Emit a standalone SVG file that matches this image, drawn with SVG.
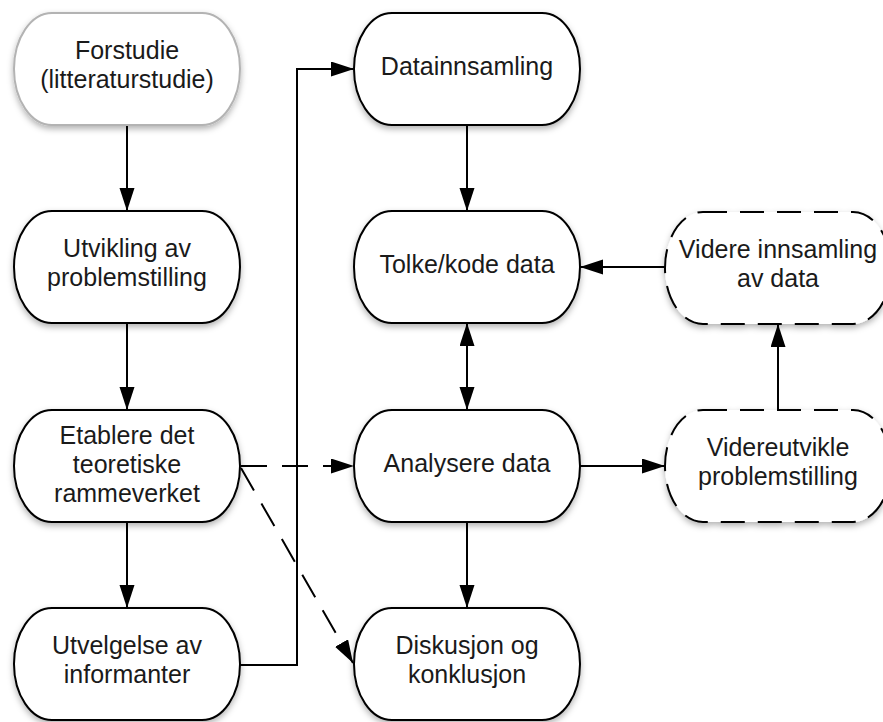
<svg xmlns="http://www.w3.org/2000/svg" width="883" height="722" viewBox="0 0 883 722">
<defs>
  <filter id="sh" x="-20%" y="-20%" width="140%" height="150%">
    <feDropShadow dx="0" dy="3" stdDeviation="3" flood-color="#000" flood-opacity="0.3"/>
  </filter>
  <marker id="ah" markerUnits="userSpaceOnUse" markerWidth="24" markerHeight="16" refX="23" refY="7.5" orient="auto-start-reverse">
    <path d="M0,0 L23,7.5 L0,15 z" fill="#000"/>
  </marker>
  <style>
    .node rect { fill: #fff; stroke: #000; stroke-width: 2; filter: url(#sh); }
    .node.grey rect { stroke: #b3b3b3; }
    .node.dash rect { stroke-dasharray: 24 13; }
    .node text { font-family: "Liberation Sans", Arial, sans-serif; font-size: 25px; fill: #1a1a1a; text-anchor: middle; }
    #connectors path { fill: none; stroke: #000; stroke-width: 2; }
    #connectors .d { stroke-dasharray: 26 15; }
  </style>
</defs>
<rect width="883" height="722" fill="#fff"/>

<g id="connectors">
  <path d="M127,125 L127,211" marker-end="url(#ah)"/>
  <path d="M127,323 L127,410" marker-end="url(#ah)"/>
  <path d="M127,522 L127,608" marker-end="url(#ah)"/>
  <path d="M240,665 L297,665 L297,69 L354,69" marker-end="url(#ah)"/>
  <path d="M467,125 L467,211" marker-end="url(#ah)"/>
  <path d="M467,323 L467,410" marker-start="url(#ah)" marker-end="url(#ah)"/>
  <path d="M467,522 L467,608" marker-end="url(#ah)"/>
  <path class="d" d="M241,466 L354,466" marker-end="url(#ah)"/>
  <path class="d" d="M241,468 L353,663" marker-end="url(#ah)"/>
  <path d="M580,466 L665,466" marker-end="url(#ah)"/>
  <path d="M778,410 L778,324" marker-end="url(#ah)"/>
  <path d="M665,267 L580,267" marker-end="url(#ah)"/>
</g>

<g id="n-forstudie" class="node grey">
  <rect x="14" y="13" width="226" height="112" rx="38" ry="56"/>
  <text x="127" y="59">Forstudie</text>
  <text x="127" y="88">(litteraturstudie)</text>
</g>
<g id="n-utvikling" class="node">
  <rect x="14" y="211" width="226" height="112" rx="38" ry="56"/>
  <text x="127" y="257">Utvikling av</text>
  <text x="127" y="286">problemstilling</text>
</g>
<g id="n-etablere" class="node">
  <rect x="14" y="410" width="226" height="112" rx="38" ry="56"/>
  <text x="127" y="444">Etablere det</text>
  <text x="127" y="473">teoretiske</text>
  <text x="127" y="502">rammeverket</text>
</g>
<g id="n-utvelgelse" class="node">
  <rect x="14" y="608" width="226" height="112" rx="38" ry="56"/>
  <text x="127" y="654">Utvelgelse av</text>
  <text x="127" y="683">informanter</text>
</g>
<g id="n-datainnsamling" class="node">
  <rect x="354" y="13" width="226" height="112" rx="38" ry="56"/>
  <text x="467" y="75">Datainnsamling</text>
</g>
<g id="n-tolke" class="node">
  <rect x="354" y="211" width="226" height="112" rx="38" ry="56"/>
  <text x="467" y="273">Tolke/kode data</text>
</g>
<g id="n-analysere" class="node">
  <rect x="354" y="410" width="226" height="112" rx="38" ry="56"/>
  <text x="467" y="472">Analysere data</text>
</g>
<g id="n-diskusjon" class="node">
  <rect x="354" y="608" width="226" height="112" rx="38" ry="56"/>
  <text x="467" y="654">Diskusjon og</text>
  <text x="467" y="683">konklusjon</text>
</g>
<g id="n-videre-innsamling" class="node dash">
  <rect x="665" y="212" width="226" height="112" rx="38" ry="56"/>
  <text x="778" y="258">Videre innsamling</text>
  <text x="778" y="287">av data</text>
</g>
<g id="n-videreutvikle" class="node dash">
  <rect x="665" y="410" width="226" height="112" rx="38" ry="56"/>
  <text x="778" y="456">Videreutvikle</text>
  <text x="778" y="485">problemstilling</text>
</g>
</svg>
